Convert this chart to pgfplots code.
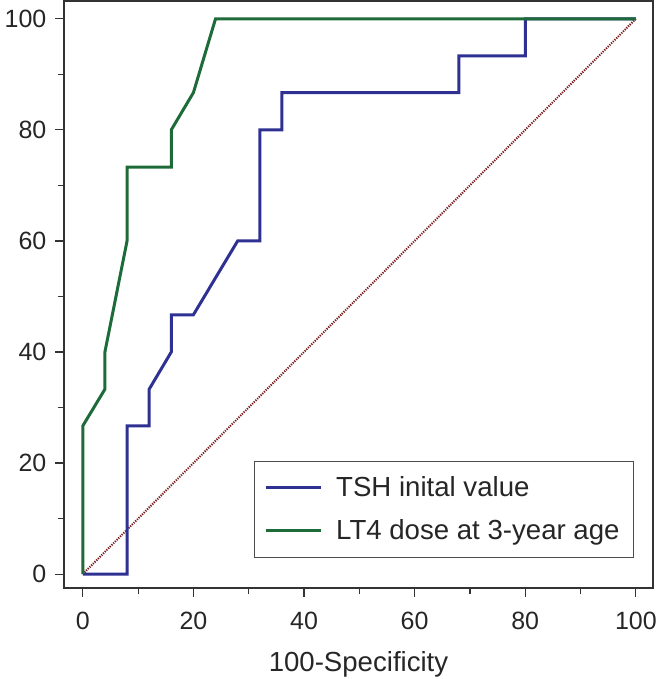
\documentclass[border=0pt]{standalone}
\usepackage{fontspec}
\setmainfont{Liberation Sans}
\usepackage{pgfplots}
\pgfplotsset{compat=1.18}
\definecolor{cBlue}{HTML}{2E3192}
\definecolor{cGreen}{HTML}{1E6B3A}
\definecolor{cRed}{HTML}{7A1A1A}
\definecolor{cAxis}{HTML}{333333}

\begin{document}
\begin{tikzpicture}
\begin{axis}[
  scale only axis,
  width=294.5pt, height=293.5pt,
  xmin=-3.4, xmax=103.1, ymin=-2.5, ymax=103.2,
  xtick={0,20,...,100}, ytick={0,20,...,100},
  minor x tick num=1, minor y tick num=1,
  xtick pos=left, ytick pos=left,
  tick align=outside,
  major tick length=4.3pt, minor tick length=3pt,
  axis line style={cAxis, line width=0.8pt},
  every tick/.style={cAxis, line width=0.6pt},
  /pgf/number format/assume math mode=true,
  tick label style={font=\fontsize{12.5}{15}\selectfont, text=black!85},
  xticklabel style={yshift=-4pt},
  yticklabel style={xshift=-1pt},
  xlabel={100-Specificity},
  xlabel style={font=\fontsize{13.8}{16}\selectfont, text=black!85, yshift=-4pt},
  legend style={at={(0.968,0.051)}, anchor=south east,
    draw=black!70, line width=0.6pt,
    font=\fontsize{13.8}{16}\selectfont, text=black!85,
    inner xsep=5pt, inner ysep=5.5pt, row sep=6pt,
    /tikz/every odd column/.append style={column sep=5pt}},
  legend cell align=left,
  legend image code/.code={\draw[#1] (0pt,0pt) -- (27.5pt,0pt);},
]
\addplot[cRed, line width=1pt, dash pattern=on 0.6pt off 0.6pt, forget plot] coordinates {(0,0) (100,100)};
\addplot[cBlue, line width=1.5pt] coordinates {
  (0,0) (8,0) (8,26.7) (12,26.7) (12,33.3) (16,40) (16,46.7) (20,46.7)
  (28,60) (32,60) (32,80) (36,80) (36,86.7) (68,86.7) (68,93.3)
  (80,93.3) (80,100) (100,100)
};
\addlegendentry{TSH inital value}
\addplot[cGreen, line width=1.5pt] coordinates {
  (0,0) (0,26.7) (4,33.3) (4,40) (8,60) (8,73.3) (16,73.3) (16,80)
  (20,86.7) (24,100) (100,100)
};
\addlegendentry{LT4 dose at 3-year age}
\end{axis}
\pgfresetboundingbox
\path ([shift={(-32pt,-45.5pt)}]current axis.south west)
  rectangle ([shift={(3.5pt,0.5pt)}]current axis.north east);
\end{tikzpicture}
\end{document}
